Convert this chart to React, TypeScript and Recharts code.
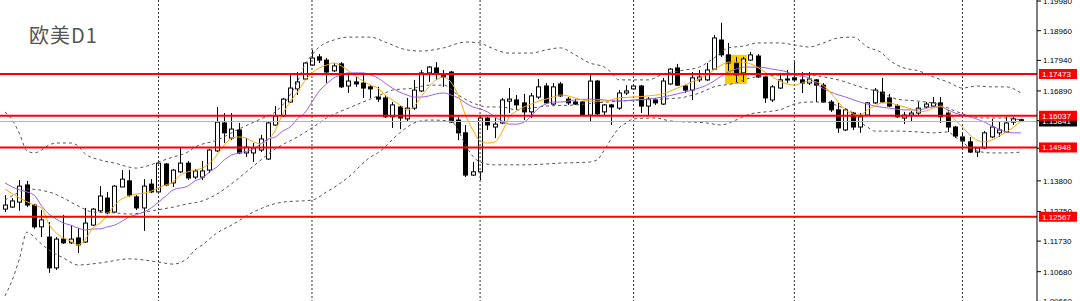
import React from 'react';
import {
  ComposedChart,
  Bar,
  Line,
  XAxis,
  YAxis,
  ReferenceLine,
  ReferenceArea,
} from 'recharts';

// daily EURUSD candles
const opens = [
  1.1283, 1.129, 1.1307, 1.1366, 1.1297, 1.1222, 1.1187, 1.1081, 1.118, 1.1167,
  1.1184, 1.117, 1.1228, 1.1277, 1.1321, 1.1273, 1.1359, 1.138, 1.1325, 1.1287,
  1.1369, 1.1342, 1.1438, 1.1373, 1.1411, 1.1441, 1.1393, 1.1393, 1.1417, 1.1483,
  1.1579, 1.1527, 1.1555, 1.1476, 1.1476, 1.1486, 1.1455, 1.1572, 1.1603, 1.1651,
  1.1696, 1.173, 1.1778, 1.1806, 1.1795, 1.1758, 1.1782, 1.1706, 1.172, 1.1716,
  1.1703, 1.1668, 1.1665, 1.16, 1.1634, 1.1593, 1.163, 1.1689, 1.1751, 1.1768,
  1.1747, 1.1754, 1.1589, 1.1545, 1.14, 1.1411, 1.1596, 1.1565, 1.1579, 1.1654,
  1.1658, 1.1648, 1.1617, 1.1668, 1.1706, 1.1644, 1.1713, 1.1661, 1.1651, 1.1651,
  1.1606, 1.1723, 1.1617, 1.1641, 1.163, 1.1682, 1.1696, 1.1706, 1.1637, 1.1658,
  1.1644, 1.1713, 1.1768, 1.1706, 1.1692, 1.1727, 1.1727, 1.1764, 1.1864, 1.1813,
  1.1785, 1.1751, 1.1795, 1.1809, 1.1737, 1.1658, 1.1699, 1.1727, 1.1734, 1.1727,
  1.1716, 1.1727, 1.1709, 1.1651, 1.1624, 1.1555, 1.1613, 1.1565, 1.1606, 1.1648,
  1.1685, 1.1665, 1.1637, 1.1596, 1.1606, 1.1613, 1.1634, 1.1637, 1.1648, 1.1613,
  1.1565, 1.1531, 1.1514, 1.1479, 1.1493, 1.1531, 1.1545, 1.1548, 1.1582, 1.159,
];
const highs = [
  1.1331, 1.1321, 1.1383, 1.138, 1.1301, 1.128, 1.1239, 1.1187, 1.1263, 1.1228,
  1.1218, 1.1287, 1.1287, 1.1362, 1.1342, 1.1366, 1.1417, 1.1417, 1.1331, 1.1386,
  1.1386, 1.1448, 1.1441, 1.1421, 1.1496, 1.1448, 1.1421, 1.1448, 1.149, 1.1634,
  1.1613, 1.1613, 1.1579, 1.1527, 1.151, 1.1538, 1.1582, 1.1637, 1.1665, 1.1747,
  1.1754, 1.1788, 1.183, 1.1816, 1.1802, 1.1785, 1.1788, 1.1751, 1.1737, 1.1751,
  1.1709, 1.1703, 1.1675, 1.1651, 1.1637, 1.1665, 1.1727, 1.1761, 1.1775, 1.1788,
  1.1761, 1.1758, 1.16, 1.1572, 1.1445, 1.16, 1.16, 1.1596, 1.1665, 1.1699,
  1.1675, 1.1679, 1.1682, 1.173, 1.1716, 1.1716, 1.172, 1.1668, 1.1661, 1.1654,
  1.1744, 1.1727, 1.1644, 1.1644, 1.1692, 1.1709, 1.1713, 1.1709, 1.1668, 1.1665,
  1.1734, 1.1768, 1.1782, 1.1709, 1.1754, 1.1761, 1.1785, 1.1881, 1.1923, 1.1854,
  1.1806, 1.1806, 1.1823, 1.1816, 1.174, 1.1709, 1.1751, 1.1761, 1.1788, 1.1754,
  1.1754, 1.173, 1.1716, 1.1658, 1.1648, 1.163, 1.1617, 1.1613, 1.1651, 1.1699,
  1.1734, 1.1679, 1.1644, 1.1617, 1.162, 1.1651, 1.1651, 1.1668, 1.1668, 1.1624,
  1.1569, 1.1545, 1.1531, 1.1496, 1.1551, 1.1593, 1.1582, 1.16, 1.16, 1.1594,
];
const lows = [
  1.1273, 1.1287, 1.1277, 1.129, 1.1215, 1.1187, 1.1064, 1.1074, 1.1163, 1.1163,
  1.1132, 1.1167, 1.1225, 1.1273, 1.1266, 1.127, 1.1359, 1.1325, 1.128, 1.1208,
  1.1338, 1.1338, 1.1362, 1.1359, 1.1407, 1.1383, 1.1386, 1.1383, 1.1407, 1.1479,
  1.151, 1.152, 1.1472, 1.1462, 1.1445, 1.1479, 1.1452, 1.1569, 1.16, 1.1648,
  1.1675, 1.1727, 1.1775, 1.1785, 1.1716, 1.1754, 1.1699, 1.1682, 1.1703, 1.1665,
  1.1665, 1.1651, 1.1596, 1.1562, 1.1558, 1.1586, 1.1624, 1.1685, 1.172, 1.1727,
  1.1703, 1.1579, 1.152, 1.1393, 1.1397, 1.1383, 1.1555, 1.1527, 1.1575, 1.1613,
  1.1624, 1.1589, 1.1596, 1.1661, 1.1644, 1.1641, 1.1668, 1.1641, 1.1641, 1.1603,
  1.1582, 1.1606, 1.1606, 1.1572, 1.1624, 1.1675, 1.1692, 1.1613, 1.1606, 1.1641,
  1.1641, 1.1709, 1.1706, 1.1682, 1.1658, 1.172, 1.1723, 1.1761, 1.1806, 1.1758,
  1.172, 1.172, 1.1792, 1.1734, 1.1648, 1.1651, 1.1696, 1.1716, 1.172, 1.1682,
  1.1709, 1.1651, 1.1648, 1.1617, 1.1545, 1.1551, 1.1555, 1.1545, 1.1603, 1.1644,
  1.1648, 1.1634, 1.1596, 1.1575, 1.1582, 1.1606, 1.163, 1.1634, 1.1579, 1.1548,
  1.1527, 1.1496, 1.1476, 1.1462, 1.149, 1.1527, 1.1531, 1.1545, 1.1572, 1.1582,
];
const closes = [
  1.1297, 1.1311, 1.1362, 1.1297, 1.1222, 1.1246, 1.1081, 1.118, 1.1167, 1.118,
  1.116, 1.1235, 1.1283, 1.1328, 1.127, 1.1362, 1.1386, 1.1331, 1.1287, 1.1362,
  1.1342, 1.1441, 1.1366, 1.1417, 1.1441, 1.139, 1.1414, 1.1414, 1.1486, 1.1582,
  1.1545, 1.1558, 1.1476, 1.1496, 1.1493, 1.1524, 1.1579, 1.1603, 1.1661, 1.1699,
  1.172, 1.1785, 1.1802, 1.1795, 1.1754, 1.1775, 1.1703, 1.1723, 1.1713, 1.1699,
  1.1696, 1.1661, 1.16, 1.1641, 1.1596, 1.163, 1.1692, 1.1751, 1.1771, 1.1747,
  1.1737, 1.1582, 1.1545, 1.14, 1.1411, 1.1596, 1.1572, 1.1575, 1.1658, 1.1661,
  1.1641, 1.1617, 1.1672, 1.1703, 1.1648, 1.1703, 1.1672, 1.1648, 1.1644, 1.1606,
  1.1723, 1.161, 1.1641, 1.1634, 1.1682, 1.1689, 1.1706, 1.1637, 1.1661, 1.1648,
  1.1723, 1.1764, 1.1709, 1.1692, 1.1734, 1.1737, 1.1761, 1.1871, 1.1813, 1.1785,
  1.1744, 1.1799, 1.1813, 1.1737, 1.1665, 1.1703, 1.1727, 1.173, 1.1727, 1.1716,
  1.173, 1.1709, 1.1651, 1.1624, 1.1562, 1.1624, 1.1565, 1.16, 1.1648, 1.1692,
  1.1651, 1.1637, 1.16, 1.1606, 1.1613, 1.163, 1.1644, 1.1648, 1.16, 1.1565,
  1.1534, 1.1517, 1.1479, 1.1493, 1.1545, 1.1565, 1.1555, 1.1579, 1.1593, 1.15841,
];

// indicator lines, sampled [bar, price]
const maFast: [number, number][] = [
  [0, 1.1352], [2, 1.1321], [4, 1.1297], [5, 1.1287], [6, 1.1232], [7, 1.1201], [8, 1.1184],
  [9, 1.1173], [10, 1.116], [11, 1.118], [12, 1.1218], [13, 1.1235], [14, 1.1263], [15, 1.1297],
  [16, 1.1318], [17, 1.1328], [18, 1.1335], [19, 1.1338], [20, 1.1345], [21, 1.1356], [22, 1.1366],
  [23, 1.1376], [24, 1.14], [25, 1.1411], [26, 1.1417], [27, 1.1424], [28, 1.1441], [29, 1.1469],
  [30, 1.1503], [31, 1.1527], [32, 1.1531], [33, 1.1527], [34, 1.1514], [35, 1.1507], [36, 1.152],
  [37, 1.1555], [38, 1.161], [39, 1.1651], [40, 1.1685], [41, 1.1723], [42, 1.1751], [43, 1.1768],
  [44, 1.1778], [45, 1.1785], [46, 1.1775], [47, 1.1758], [48, 1.174], [49, 1.1723], [50, 1.1709],
  [51, 1.1699], [52, 1.1675], [53, 1.1658], [54, 1.1641], [55, 1.1624], [56, 1.1637], [57, 1.1672],
  [58, 1.1703], [59, 1.1727], [60, 1.1737], [61, 1.172], [62, 1.1675], [63, 1.1606], [64, 1.1555],
  [65, 1.1517], [66, 1.151], [67, 1.1514], [68, 1.1548], [69, 1.16], [70, 1.162], [71, 1.1634],
  [72, 1.1644], [73, 1.1654], [74, 1.1661], [75, 1.1668], [76, 1.1675], [77, 1.1672], [78, 1.1665],
  [79, 1.1658], [80, 1.1654], [82, 1.1654], [84, 1.1665], [86, 1.1668], [88, 1.1672], [90, 1.1679],
  [92, 1.1699], [94, 1.172], [96, 1.1744], [97, 1.1761], [98, 1.1778], [99, 1.1788], [101, 1.1788],
  [102, 1.1782], [104, 1.1754], [106, 1.1723], [108, 1.1709], [109, 1.1716], [110, 1.1723],
  [111, 1.172], [112, 1.1706], [113, 1.1682], [114, 1.1651], [115, 1.1624], [116, 1.161],
  [117, 1.1606], [118, 1.1624], [119, 1.1637], [120, 1.1648], [121, 1.1648], [122, 1.1641],
  [124, 1.1627], [125, 1.1617], [126, 1.162], [127, 1.163], [128, 1.1637], [129, 1.162],
  [130, 1.1589], [131, 1.1565], [132, 1.1538], [133, 1.152], [134, 1.1514], [135, 1.152],
  [136, 1.1534], [137, 1.1548], [138, 1.1565], [139, 1.1586],
];
const maSlow: [number, number][] = [
  [0, 1.1373], [1, 1.1359], [2, 1.1349], [4, 1.1331], [5, 1.1294], [6, 1.1266], [7, 1.1249],
  [8, 1.1235], [9, 1.1228], [10, 1.1218], [11, 1.1211], [12, 1.1215], [13, 1.1215], [14, 1.1222],
  [15, 1.1228], [17, 1.1256], [19, 1.1273], [20, 1.1287], [21, 1.1307], [22, 1.1328], [23, 1.1349],
  [25, 1.1362], [26, 1.138], [27, 1.139], [28, 1.1411], [29, 1.1428], [30, 1.1452], [31, 1.1469],
  [32, 1.1476], [34, 1.149], [35, 1.1507], [36, 1.1524], [37, 1.1531], [38, 1.1551], [39, 1.1565],
  [40, 1.1593], [41, 1.1613], [42, 1.1651], [43, 1.1689], [44, 1.1713], [45, 1.1734], [46, 1.1744],
  [47, 1.1751], [49, 1.1751], [50, 1.1744], [51, 1.1734], [52, 1.1716], [53, 1.1699], [54, 1.1685],
  [55, 1.1675], [56, 1.1668], [57, 1.1668], [58, 1.1672], [59, 1.1679], [60, 1.1682], [61, 1.1675],
  [62, 1.1665], [63, 1.1648], [64, 1.1634], [65, 1.1627], [66, 1.1617], [67, 1.16], [68, 1.1586],
  [69, 1.1575], [70, 1.1575], [71, 1.1582], [72, 1.1603], [73, 1.163], [74, 1.1644], [75, 1.1651],
  [76, 1.1651], [78, 1.1658], [80, 1.1661], [82, 1.1658], [84, 1.1654], [86, 1.1658], [88, 1.1661],
  [90, 1.1668], [92, 1.1679], [94, 1.1692], [96, 1.1709], [97, 1.1723], [98, 1.174], [99, 1.1754],
  [100, 1.1764], [101, 1.1771], [103, 1.1771], [105, 1.1764], [107, 1.1754], [108, 1.1744],
  [110, 1.1734], [111, 1.1713], [113, 1.1685], [115, 1.1668], [117, 1.1651], [119, 1.1637],
  [121, 1.163], [123, 1.1624], [125, 1.1624], [127, 1.1634], [128, 1.1634], [129, 1.1624],
  [130, 1.1613], [132, 1.16], [134, 1.1582], [135, 1.1569], [136, 1.1558], [137, 1.1548],
  [138, 1.1545], [139, 1.1545],
];
const bbUpper: [number, number][] = [
  [0, 1.1617], [1, 1.1589], [2, 1.1541], [3, 1.1483], [4, 1.1476], [5, 1.1486], [6, 1.1503],
  [7, 1.151], [9, 1.151], [10, 1.15], [11, 1.1472], [13, 1.1452], [15, 1.1441], [18, 1.1424],
  [19, 1.1428], [21, 1.1445], [23, 1.1462], [25, 1.1479], [26, 1.1496], [29, 1.152], [32, 1.1558],
  [35, 1.1593], [37, 1.1617], [39, 1.1675], [40, 1.172], [41, 1.1778], [42, 1.1813], [43, 1.184],
  [45, 1.1864], [47, 1.1874], [50, 1.1874], [52, 1.1857], [55, 1.183], [57, 1.1826], [60, 1.1837],
  [63, 1.1857], [65, 1.1854], [66, 1.1843], [69, 1.1819], [72, 1.1819], [74, 1.183], [76, 1.1837],
  [78, 1.1813], [80, 1.1785], [82, 1.1771], [83, 1.1751], [84, 1.1727], [88, 1.1727], [90, 1.1747],
  [93, 1.1761], [95, 1.1771], [97, 1.1802], [99, 1.1837], [101, 1.1843], [103, 1.1854],
  [106, 1.1854], [108, 1.1847], [110, 1.184], [112, 1.1854], [114, 1.1871], [116, 1.1874],
  [118, 1.184], [120, 1.1819], [121, 1.1795], [123, 1.1768], [125, 1.1758], [127, 1.1737],
  [129, 1.172], [131, 1.1699], [133, 1.1706], [135, 1.1703], [137, 1.1703], [139, 1.1682],
];
const bbMiddle: [number, number][] = [
  [0, 1.1314], [2, 1.1342], [3, 1.1352], [6, 1.1342], [8, 1.1321], [10, 1.1294], [12, 1.1273],
  [15, 1.127], [17, 1.1266], [20, 1.1277], [23, 1.129], [25, 1.1301], [27, 1.1311], [29, 1.1335],
  [32, 1.139], [34, 1.1431], [37, 1.149], [40, 1.1531], [42, 1.1562], [44, 1.1596], [47, 1.163],
  [49, 1.1651], [52, 1.1682], [53, 1.1692], [56, 1.1699], [58, 1.1709], [60, 1.1709], [62, 1.1675],
  [64, 1.1648], [66, 1.1634], [68, 1.1634], [70, 1.1624], [72, 1.163], [74, 1.1637], [78, 1.1641],
  [81, 1.1648], [84, 1.1654], [87, 1.1658], [90, 1.1661], [93, 1.1668], [95, 1.1682], [97, 1.1703],
  [100, 1.1716], [102, 1.1734], [104, 1.174], [107, 1.1744], [110, 1.1744], [112, 1.1737],
  [114, 1.1727], [117, 1.1703], [120, 1.1682], [122, 1.1661], [125, 1.1654], [128, 1.1641],
  [130, 1.162], [132, 1.1603], [134, 1.1596], [137, 1.1596], [139, 1.1589],
];
const bbLower: [number, number][] = [
  [0, 1.0985], [1, 1.104], [2, 1.1115], [3, 1.1204], [4, 1.1187], [5, 1.1163], [6, 1.1143],
  [8, 1.1115], [10, 1.1091], [13, 1.1098], [17, 1.1112], [21, 1.1101], [23, 1.1094], [25, 1.1115],
  [26, 1.1143], [27, 1.116], [29, 1.1201], [31, 1.1228], [34, 1.1273], [38, 1.1307], [42, 1.1314],
  [44, 1.1342], [47, 1.1393], [50, 1.1462], [51, 1.1476], [54, 1.1545], [56, 1.1579], [58, 1.1589],
  [61, 1.1586], [62, 1.1555], [63, 1.1503], [64, 1.1465], [65, 1.1445], [67, 1.1435], [71, 1.1435],
  [76, 1.1441], [80, 1.1445], [81, 1.1452], [82, 1.1486], [83, 1.1527], [84, 1.1562], [85, 1.1579],
  [86, 1.1593], [89, 1.1596], [91, 1.1586], [96, 1.1579], [98, 1.1572], [100, 1.1589],
  [102, 1.161], [104, 1.1617], [106, 1.1624], [108, 1.1644], [110, 1.1651], [112, 1.1651],
  [114, 1.1637], [116, 1.1613], [117, 1.1582], [118, 1.1565], [119, 1.1551], [122, 1.1551],
  [125, 1.1548], [127, 1.1545], [129, 1.1548], [130, 1.1531], [131, 1.1514], [132, 1.1493],
  [133, 1.1483], [135, 1.1476], [137, 1.1476], [139, 1.1479],
];

const levels = [1.17473, 1.16037, 1.14948, 1.12567];
const lastPrice = 1.15841;
const priceTicks = [
  1.0966, 1.1068, 1.1173, 1.1275, 1.138, 1.1492, 1.1587, 1.1689, 1.1794, 1.1896, 1.1998,
];
const gridBars = [21, 42, 65, 86, 108, 131];
const markBars = [99, 101];
const markPrices = [1.1713, 1.1813];

const CHART_H = 302;
const yDomain: [number, number] = [1.096382, 1.200149];
const pxPerUnit = CHART_H / (yDomain[1] - yDomain[0]);

const fastMap = new Map(maFast);
const slowMap = new Map(maSlow);
const upMap = new Map(bbUpper);
const midMap = new Map(bbMiddle);
const lowMap = new Map(bbLower);

const rows = opens.map((open, i) => ({
  i,
  open,
  high: highs[i],
  low: lows[i],
  close: closes[i],
  range: [lows[i], highs[i]],
  fast: fastMap.get(i) ?? null,
  slow: slowMap.get(i) ?? null,
  upper: upMap.get(i) ?? null,
  middle: midMap.get(i) ?? null,
  lower: lowMap.get(i) ?? null,
}));

const Candle = (props: any) => {
  const { x, y, width, height, payload } = props;
  if (!payload || y == null) return null;
  const top = Math.min(y, y + height);
  const span = Math.abs(height);
  const { open, close, high, low } = payload;
  const k = high === low ? 0 : span / (high - low);
  const yO = top + (high - open) * k;
  const yC = top + (high - close) * k;
  const cx = Math.round(x + width / 2) + 0.5;
  const bodyTop = Math.min(yO, yC);
  const bodyH = Math.max(Math.abs(yO - yC), 1);
  const up = close >= open;
  return (
    <g>
      <line x1={cx} x2={cx} y1={top} y2={top + span} stroke="#000" strokeWidth={1} />
      <rect
        x={cx - 2}
        y={bodyTop}
        width={4}
        height={bodyH}
        fill={up ? '#fff' : '#000'}
        stroke="#000"
        strokeWidth={1}
      />
    </g>
  );
};

const tagList = [
  { value: lastPrice, bg: '#000' },
  ...levels.map((value) => ({ value, bg: '#ff0000' })),
];

// axis label; the last tick also paints the price tags so they cover the labels
const PriceTick = (props: any) => {
  const { x, y, payload, index, visibleTicksCount } = props;
  if (!payload) return null;
  const v = payload.value as number;
  const isLast = index === (visibleTicksCount ?? priceTicks.length) - 1;
  const left = x - 4;
  return (
    <g>
      <text x={x} y={y + 3} fill="#000" fontSize={8} fontFamily="Arial, 'Liberation Sans'">
        {v.toFixed(5)}
      </text>
      {isLast &&
        tagList.map((t) => {
          const ty = y + (v - t.value) * pxPerUnit;
          return (
            <g key={t.value}>
              <rect x={left} y={ty - 5} width={38} height={10} fill={t.bg} />
              <text
                x={left + 3}
                y={ty + 3}
                fill="#fff"
                fontSize={8}
                fontFamily="Arial, 'Liberation Sans'"
              >
                {t.value.toFixed(5)}
              </text>
            </g>
          );
        })}
    </g>
  );
};

export default function App() {
  return (
    <div
      style={{
        position: 'absolute',
        left: 0,
        top: 0,
        width: 1080,
        height: 301,
        overflow: 'hidden',
        background: '#fff',
      }}
    >
      <ComposedChart
        width={1080}
        height={CHART_H}
        data={rows}
        margin={{ top: 0, right: 0, bottom: 0, left: 0 }}
        barCategoryGap={0}
        barGap={0}
      >
        <XAxis dataKey="i" type="category" hide padding={{ left: 1.35, right: 12.4 }} />
        <YAxis
          orientation="right"
          type="number"
          width={43}
          domain={yDomain}
          allowDataOverflow
          ticks={priceTicks}
          interval={0}
          tick={<PriceTick />}
          tickSize={4}
          tickMargin={2}
          tickLine={{ stroke: '#000' }}
          axisLine={{ stroke: '#000' }}
        />
        <ReferenceArea
          x1={markBars[0]}
          x2={markBars[1]}
          y1={markPrices[0]}
          y2={markPrices[1]}
          fill="#ffcc00"
          fillOpacity={1}
          stroke="none"
        />
        {gridBars.map((b) => (
          <ReferenceLine key={b} x={b} stroke="#333" strokeDasharray="2 2" />
        ))}
        <Line dataKey="upper" stroke="#555" strokeDasharray="3 3" dot={false} connectNulls type="monotone" isAnimationActive={false} />
        <Line dataKey="middle" stroke="#555" strokeDasharray="3 3" dot={false} connectNulls type="monotone" isAnimationActive={false} />
        <Line dataKey="lower" stroke="#555" strokeDasharray="3 3" dot={false} connectNulls type="monotone" isAnimationActive={false} />
        <Bar dataKey="range" shape={<Candle />} isAnimationActive={false} />
        <Line dataKey="slow" stroke="#9a60f0" strokeWidth={1} dot={false} connectNulls type="monotone" isAnimationActive={false} />
        <Line dataKey="fast" stroke="#ffa500" strokeWidth={1} dot={false} connectNulls type="monotone" isAnimationActive={false} />
        <ReferenceLine y={lastPrice} stroke="#a8b4c0" />
        {levels.map((v) => (
          <ReferenceLine key={v} y={v} stroke="#ff0000" strokeWidth={2} />
        ))}
      </ComposedChart>
      <svg style={{ position: 'absolute', left: 0, top: 0 }} width={200} height={60}>
        <text
          x={29}
          y={43}
          fontSize={20}
          letterSpacing={1}
          fill="#555"
          fontFamily="'Noto Sans CJK SC', 'Noto Sans'"
        >
          欧美D1
        </text>
      </svg>
    </div>
  );
}
